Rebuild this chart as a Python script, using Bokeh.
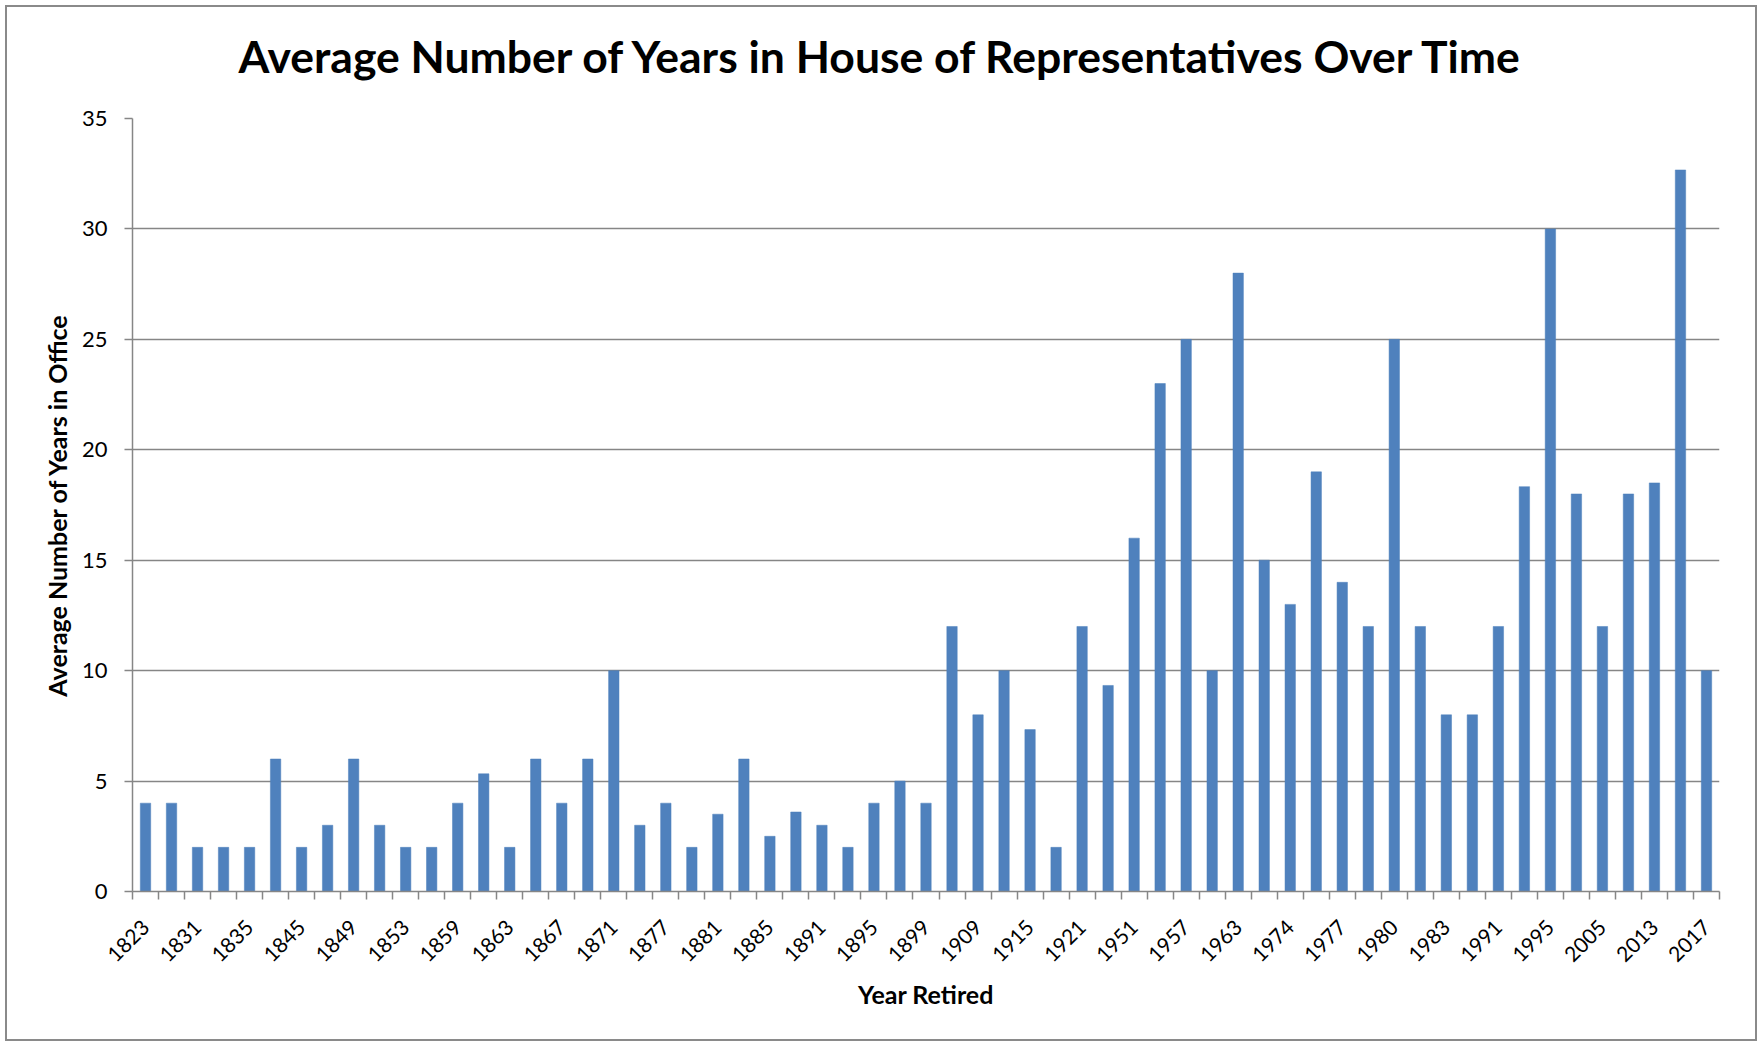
import math
from bokeh.plotting import figure
from bokeh.layouts import column
from bokeh.models import Range1d, FixedTicker, ColumnDataSource, Plot, Text
from bokeh.core.properties import value
from bokeh.embed import file_html
from bokeh.resources import INLINE

# Year retired for every bar (only every other one is labelled in the source chart;
# the unlabelled in-between years are estimates)
years = [1823, 1827, 1831, 1833, 1835, 1841, 1845, 1847, 1849, 1851,
         1853, 1857, 1859, 1861, 1863, 1865, 1867, 1869, 1871, 1873,
         1877, 1879, 1881, 1883, 1885, 1889, 1891, 1893, 1895, 1897,
         1899, 1903, 1909, 1913, 1915, 1919, 1921, 1933, 1951, 1955,
         1957, 1961, 1963, 1969, 1974, 1975, 1977, 1979, 1980, 1981,
         1983, 1987, 1991, 1993, 1995, 1999, 2005, 2009, 2013, 2015,
         2017]

avg_years = [4, 4, 2, 2, 2, 6, 2, 3, 6, 3,
             2, 2, 4, 5.33, 2, 6, 4, 6, 10, 3,
             4, 2, 3.5, 6, 2.5, 3.6, 3, 2, 4, 5,
             4, 12, 8, 10, 7.33, 2, 12, 9.33, 16, 23,
             25, 10, 28, 15, 13, 19, 14, 12, 25, 12,
             8, 8, 12, 18.33, 30, 18, 12, 18, 18.5, 32.67,
             10]

y_ticks = [0, 5, 10, 15, 20, 25, 30, 35]

title_text = "Average Number of Years in House of Representatives Over Time"
x_title = "Year Retired"
y_title = "Average Number of Years in Office"

positions = list(range(len(years)))
label_positions = positions[::2]

src = ColumnDataSource(dict(x=positions, v=avg_years, year=[str(y) for y in years]))

GRAY = "#868686"
FONT = "Lato"

# ---- layout constants (page pixels) ----
PAD = 7                     # chart border offset (margin + border width)
W = 1748                    # inner width of the bordered chart
FRAME_L, FRAME_R, FRAME_T, FRAME_B = 132, 1719, 118, 891
SPLIT = 100                 # page y where the title strip ends
BOTTOM = 1039               # page y of the inner bottom edge
TITLE_CX, TITLE_CY = 882, 55

BL = FRAME_L - PAD
BR = PAD + W - FRAME_R

# ---- title strip: a plain plot whose frame uses page-pixel coordinates ----
head = Plot(width=W, height=SPLIT - PAD, output_backend="svg", toolbar_location=None,
            title=None,
            min_border_left=BL, min_border_right=BR, min_border_top=0, min_border_bottom=0,
            outline_line_color=None,
            x_range=Range1d(FRAME_L, FRAME_R), y_range=Range1d(SPLIT, PAD))
head_src = ColumnDataSource(dict(x=[TITLE_CX], y=[TITLE_CY], t=[title_text]))
head.add_glyph(head_src, Text(x="x", y="y", text="t", text_align="center",
                              text_baseline="middle", text_font=value(FONT),
                              text_font_style="bold", text_font_size=value("44.5px"),
                              text_color="#000000"))

# ---- main chart ----
MAIN_H = BOTTOM - SPLIT
p = figure(width=W, height=MAIN_H,
           x_range=Range1d(-0.5, len(years) - 0.5), y_range=Range1d(0, 35),
           output_backend="svg", toolbar_location=None,
           min_border_left=BL, min_border_right=BR,
           min_border_top=FRAME_T - SPLIT, min_border_bottom=BOTTOM - FRAME_B)

p.vbar(x="x", top="v", width=0.4, source=src,
       fill_color="#4F81BD", line_color="#4F81BD", line_width=0.5)

p.outline_line_color = None
p.xgrid.visible = False
p.ygrid.grid_line_color = GRAY
p.ygrid.grid_line_width = 1.5
p.ygrid.ticker = FixedTicker(ticks=y_ticks)

xa = p.xaxis[0]
xa.ticker = FixedTicker(ticks=label_positions,
                        minor_ticks=[i - 0.5 for i in range(len(years) + 1)])
xa.major_label_overrides = {i: str(years[i]) for i in label_positions}
xa.major_label_orientation = math.pi / 4
xa.major_tick_out = 0
xa.major_tick_in = 0
xa.minor_tick_out = 8
xa.minor_tick_in = 0
xa.minor_tick_line_color = GRAY
xa.minor_tick_line_width = 1.5
xa.axis_line_color = GRAY
xa.axis_line_width = 1.5
xa.major_label_text_font = FONT
xa.major_label_text_font_size = "21px"
xa.major_label_text_color = "#000000"
xa.major_label_standoff = 24
xa.axis_label = x_title
xa.axis_label_text_font = FONT
xa.axis_label_text_font_style = "bold"
xa.axis_label_text_font_size = "25px"
xa.axis_label_text_color = "#000000"
xa.axis_label_standoff = 7

ya = p.yaxis[0]
ya.ticker = FixedTicker(ticks=y_ticks)
ya.major_tick_out = 8
ya.major_tick_in = 0
ya.minor_tick_out = 0
ya.minor_tick_in = 0
ya.major_tick_line_color = GRAY
ya.major_tick_line_width = 1.5
ya.axis_line_color = GRAY
ya.axis_line_width = 1.5
ya.major_label_text_font = FONT
ya.major_label_text_font_size = "22px"
ya.major_label_text_color = "#000000"
ya.major_label_standoff = 17
ya.axis_label = y_title
ya.axis_label_text_font = FONT
ya.axis_label_text_font_style = "bold"
ya.axis_label_text_font_size = "25px"
ya.axis_label_text_color = "#000000"
ya.axis_label_standoff = 7

root = column(head, p, spacing=0)
root.styles = {"margin": "5px 0px 0px 5px", "border": "2px solid #8a8a8a",
               "background-color": "#ffffff"}

open("out.html", "w").write(file_html(root, INLINE))
